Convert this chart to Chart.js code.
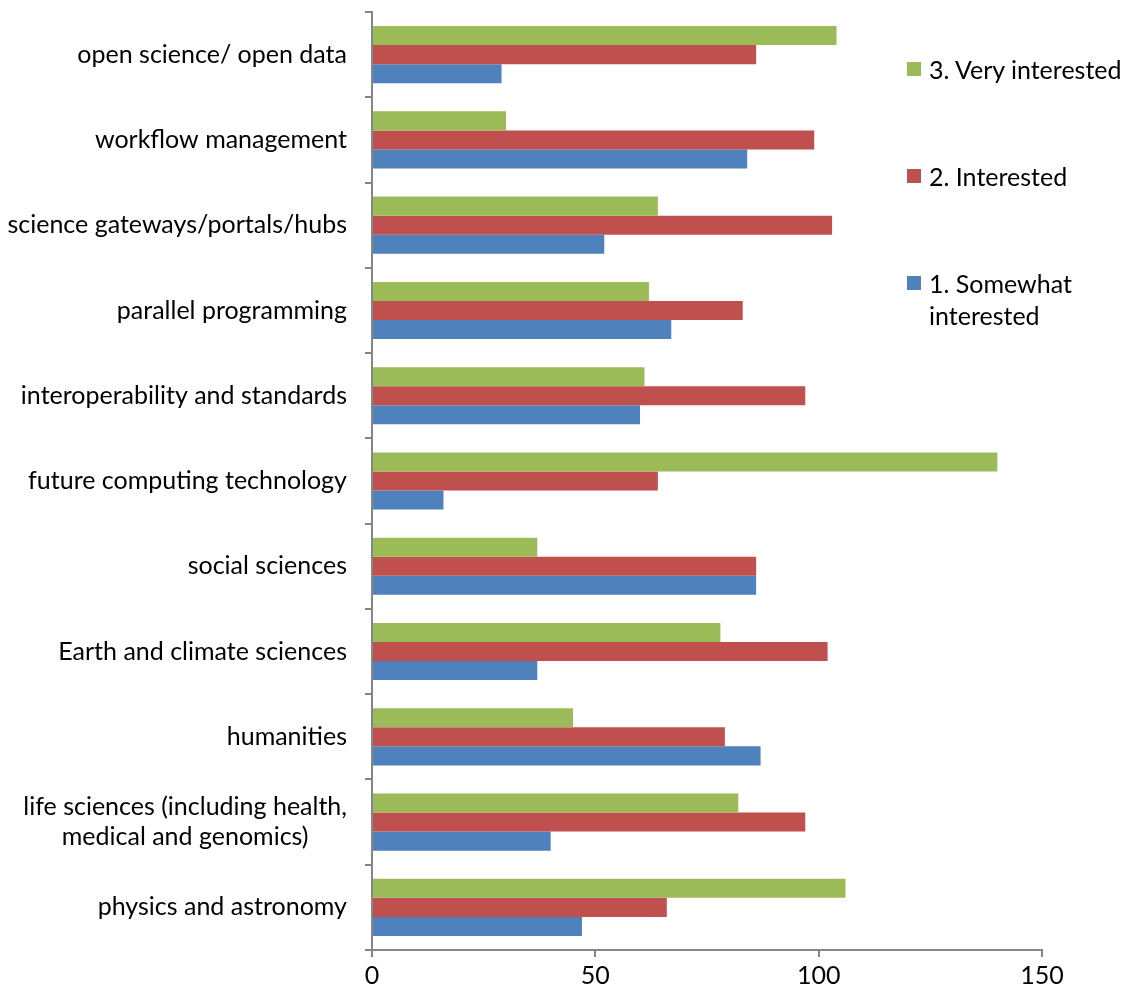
<!DOCTYPE html>
<html>
<head>
<meta charset="utf-8">
<script src="https://cdn.jsdelivr.net/npm/chart.js@4"></script>
<style>
  html, body { margin: 0; padding: 0; background: #fff; }
  #wrap { position: relative; width: 1129px; height: 994px; }
  #legend { position: absolute; left: 907px; top: 0; font-family: Lato, "Open Sans", sans-serif; font-size: 25px; color: #000; }
  .item { position: absolute; left: 0; white-space: nowrap; line-height: 32px; }
  .item span.box { position: absolute; left: 0; top: 9px; width: 14px; height: 14px; }
  .item div { margin-left: 22px; }
</style>
</head>
<body>
<div id="wrap">
  <canvas id="chart" width="1129" height="994"></canvas>
  <div id="legend"></div>
</div>
<script>
const categories = [
  "open science/ open data",
  "workflow management",
  "science gateways/portals/hubs",
  "parallel programming",
  "interoperability and standards",
  "future computing technology",
  "social sciences",
  "Earth and climate sciences",
  "humanities",
  ["life sciences (including health,", "medical and genomics)"],
  "physics and astronomy"
];
const veryInterested = [104, 30, 64, 62, 61, 140, 37, 78, 45, 82, 106];
const interested = [86, 99, 103, 83, 97, 64, 86, 102, 79, 97, 66];
const somewhatInterested = [29, 84, 52, 67, 60, 16, 86, 37, 87, 40, 47];
const xTicks = [0, 50, 100, 150];

const seriesNames = ["3. Very interested", "2. Interested", ["1. Somewhat", "interested"]];
const colors = ["#9BBB59", "#C0504D", "#4F81BD"];
const legendTops = [53, 160, 267];

const fontFamily = "Lato, 'Open Sans', sans-serif";
const font = { family: fontFamily, size: 25 };
const axisColor = "#868686";

// y labels drawn by hand so that two-line labels are centred like the original
const yLabelPlugin = {
  id: "yLabels",
  afterDraw(chart) {
    const scale = chart.scales.y;
    const c = chart.ctx;
    const right = scale.right - 25;
    c.save();
    c.font = `25px ${fontFamily}`;
    c.fillStyle = "#000";
    c.textBaseline = "middle";
    c.textAlign = "center";
    categories.forEach((label, i) => {
      const y = scale.getPixelForTick(i);
      const lines = Array.isArray(label) ? label : [label];
      const w = Math.max(...lines.map((t) => c.measureText(t).width));
      const x = right - w / 2;
      const lh = 30;
      const y0 = y - (lh * (lines.length - 1)) / 2;
      lines.forEach((t, j) => c.fillText(t, x, y0 + j * lh));
    });
    c.restore();
  },
};

const ctx = document.getElementById("chart");
new Chart(ctx, {
  type: "bar",
  data: {
    labels: categories,
    datasets: [
      { label: "3. Very interested", data: veryInterested, backgroundColor: colors[0] },
      { label: "2. Interested", data: interested, backgroundColor: colors[1] },
      { label: "1. Somewhat interested", data: somewhatInterested, backgroundColor: colors[2] },
    ],
  },
  options: {
    indexAxis: "y",
    responsive: false,
    animation: false,
    layout: { padding: { top: 12, right: 87, left: 0, bottom: 0 } },
    datasets: { bar: { categoryPercentage: 0.67, barPercentage: 1 } },
    scales: {
      x: {
        min: 0,
        max: 150,
        afterBuildTicks: (scale) => { scale.ticks = xTicks.map((v) => ({ value: v })); },
        grid: { drawOnChartArea: false, tickLength: 7, color: axisColor, lineWidth: 2 },
        border: { color: axisColor, width: 2 },
        ticks: { color: "#000", font: font, padding: 4, maxRotation: 0 },
        afterFit: (scale) => { scale.height = 44; },
      },
      y: {
        grid: { drawOnChartArea: false, tickLength: 7, color: axisColor, lineWidth: 2, offset: true },
        border: { color: axisColor, width: 2 },
        ticks: { display: false, autoSkip: false },
        afterFit: (scale) => {
          scale.width = 372;
          scale.paddingTop = 0;
          scale.paddingBottom = 0;
        },
      },
    },
    plugins: {
      legend: { display: false },
      tooltip: { enabled: false },
    },
  },
  plugins: [yLabelPlugin],
});

const legendEl = document.getElementById("legend");
seriesNames.forEach((name, i) => {
  const item = document.createElement("div");
  item.className = "item";
  item.style.top = legendTops[i] + "px";
  const box = document.createElement("span");
  box.className = "box";
  box.style.background = colors[i];
  item.appendChild(box);
  const lines = Array.isArray(name) ? name : [name];
  lines.forEach((t) => {
    const d = document.createElement("div");
    d.textContent = t;
    item.appendChild(d);
  });
  legendEl.appendChild(item);
});
</script>
</body>
</html>
